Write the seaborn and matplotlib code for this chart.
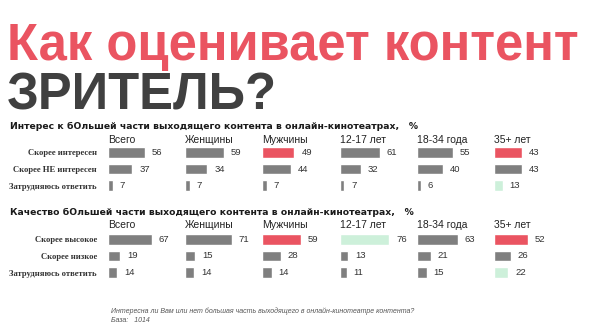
import matplotlib
matplotlib.use("Agg")
import matplotlib.pyplot as plt
import seaborn as sns

sns.set_theme(style="white")
plt.rcParams["font.family"] = ["Liberation Sans", "DejaVu Sans"]

# Data
groups = ["Всего", "Женщины", "Мужчины", "12-17 лет", "18-34 года", "35+ лет"]

interest_rows = ["Скорее интересен", "Скорее НЕ интересен", "Затрудняюсь ответить"]
interest_vals = [
    [56, 37, 7],
    [59, 34, 7],
    [49, 44, 7],
    [61, 32, 7],
    [55, 40, 6],
    [43, 43, 13],
]
interest_hl = [
    ["g", "g", "g"],
    ["g", "g", "g"],
    ["r", "g", "g"],
    ["g", "g", "g"],
    ["g", "g", "g"],
    ["r", "g", "l"],
]

quality_rows = ["Скорее высокое", "Скорее низкое", "Затрудняюсь ответить"]
quality_vals = [
    [67, 19, 14],
    [71, 15, 14],
    [59, 28, 14],
    [76, 13, 11],
    [63, 21, 15],
    [52, 26, 22],
]
quality_hl = [
    ["g", "g", "g"],
    ["g", "g", "g"],
    ["r", "g", "g"],
    ["l", "g", "g"],
    ["g", "g", "g"],
    ["r", "g", "l"],
]

title_1 = "Как оценивает контент"
title_2 = "ЗРИТЕЛЬ?"
heading_1 = "Интерес к бОльшей части выходящего контента в онлайн-кинотеатрах,   %"
heading_2 = "Качество бОльшей части выходящего контента в онлайн-кинотеатрах,   %"
note_1 = "Интересна ли Вам или нет большая часть выходящего в онлайн-кинотеатре контента?"
note_2 = "База:   1014"

COLORS = {"g": "#7f7f7f", "r": "#ea5461", "l": "#cdf0da"}

W, H = 600, 330
fig = plt.figure(figsize=(W / 100, H / 100), dpi=100)
fig.patch.set_facecolor("white")


def px_axes(x, y, w, h):
    """Axes placed by pixel box (top-left origin)."""
    return fig.add_axes([x / W, 1 - (y + h) / H, w / W, h / H])


def ftext(x, y, s, **kw):
    return fig.text(x / W, 1 - y / H, s, **kw)


# Titles
ftext(7, 60, title_1, fontsize=36.5, fontweight="bold", color="#ea5461",
      va="baseline", ha="left")
ftext(7, 110, title_2, fontsize=36.5, fontweight="bold", color="#404040",
      va="baseline", ha="left")


def section(heading, heading_y, header_y, top, rows, vals, hls):
    ftext(10, heading_y, heading, fontsize=6.7, fontweight="bold",
          color="#1a1a1a", va="center", ha="left",
          family=["DejaVu Sans"])
    col_x0, col_step, panel_w = 108, 77.2, 72
    panel_h = 50
    for g, name in enumerate(groups):
        x0 = col_x0 + col_step * g
        ftext(x0, header_y, name, fontsize=7.5, color="#222222",
              va="center", ha="left")
        ax = px_axes(x0, top, panel_w, panel_h)
        cols = [COLORS[c] for c in hls[g]]
        sns.barplot(x=vals[g], y=rows, hue=rows, palette=cols, legend=False,
                    orient="h", width=0.64, ax=ax, saturation=1)
        ax.set_xlim(0, 110)
        ax.set_ylim(2.5, -0.5)
        for cont in ax.containers:
            ax.bar_label(cont, padding=5, fontsize=6.8, color="#333333")
        for sp in ax.spines.values():
            sp.set_visible(False)
        ax.set_xticks([])
        ax.set_xlabel("")
        ax.set_ylabel("")
        ax.patch.set_alpha(0)
        if g == 0:
            ax.tick_params(axis="y", length=0, pad=8)
            for lab in ax.get_yticklabels():
                lab.set_fontfamily(["Liberation Serif"])
                lab.set_fontweight("bold")
                lab.set_fontsize(6.2)
                lab.set_color("#333333")
        else:
            ax.set_yticks([])


section(heading_1, 126, 140, 144, interest_rows, interest_vals, interest_hl)
section(heading_2, 212, 225, 231, quality_rows, quality_vals, quality_hl)

# Footnote
ftext(111, 311, note_1, fontsize=5, style="italic", color="#555555",
      va="center", ha="left")
ftext(111, 320, note_2, fontsize=5, style="italic", color="#555555",
      va="center", ha="left")

fig.savefig("out.png", dpi=100, facecolor="white")
